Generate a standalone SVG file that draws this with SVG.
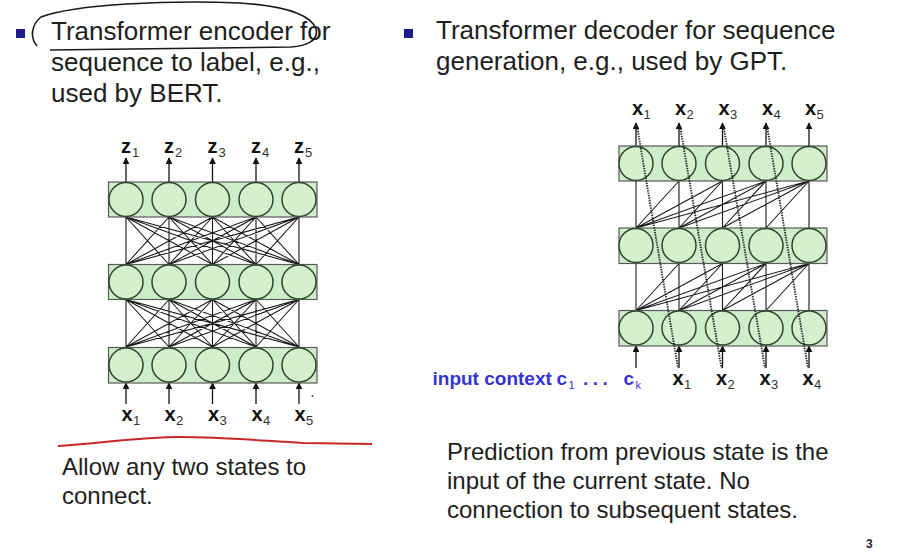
<svg xmlns="http://www.w3.org/2000/svg" xmlns:xlink="http://www.w3.org/1999/xlink" width="905" height="552" viewBox="0 0 905 552">
  <style>
    .body { font-family: "Liberation Sans", Arial, sans-serif; fill: #1e1e1e; }
    .big { font-size: 26px; }
    .mid { font-size: 24px; }
    .var { font-family: "Liberation Sans", Arial, sans-serif; font-size: 20px; font-weight: bold; fill: #111; }
    .sub { font-family: "Liberation Sans", Arial, sans-serif; font-size: 13px; fill: #333; }
    .ctx { font-family: "Liberation Sans", Arial, sans-serif; font-size: 19px; font-weight: bold; fill: #3434d4; }
    .ctxsub { font-family: "Liberation Sans", Arial, sans-serif; font-size: 11px; fill: #3434d4; }
    .layer { fill: #cfeccb; stroke: #5a5a5a; stroke-width: 1.2; }
    .unit { fill: #d4f0cd; stroke: #2d472d; stroke-width: 1.5; }
    .wire { fill: none; stroke: #1a1a1a; stroke-width: 1.1; }
    .arrow { fill: none; stroke: #111; stroke-width: 1.3; marker-end: url(#ah); }
    .dots { fill: none; stroke: #2a2a2a; stroke-width: 1.9; stroke-dasharray: 1.4 1.1; }
    .bullet { fill: #1c1c8e; }
  </style>
  <defs>
    <marker id="ah" viewBox="0 0 10 10" refX="9" refY="5" markerUnits="userSpaceOnUse" markerWidth="7" markerHeight="7" orient="auto">
      <path d="M0,0 L10,5 L0,10 Z" fill="#111"/>
    </marker>
    <!-- every unit of one layer wired to every unit of the next -->
    <path id="fullMesh" class="wire" d="
      M126 0L126 47.5M126 0L169 47.5M126 0L212.5 47.5M126 0L256 47.5M126 0L299 47.5
      M169 0L126 47.5M169 0L169 47.5M169 0L212.5 47.5M169 0L256 47.5M169 0L299 47.5
      M212.5 0L126 47.5M212.5 0L169 47.5M212.5 0L212.5 47.5M212.5 0L256 47.5M212.5 0L299 47.5
      M256 0L126 47.5M256 0L169 47.5M256 0L212.5 47.5M256 0L256 47.5M256 0L299 47.5
      M299 0L126 47.5M299 0L169 47.5M299 0L212.5 47.5M299 0L256 47.5M299 0L299 47.5"/>
    <!-- unit j only sees units 1..j of the layer below -->
    <path id="causalMesh" class="wire" d="
      M636 0L636 47
      M679 0L636 47M679 0L679 47
      M722.5 0L636 47M722.5 0L679 47M722.5 0L722.5 47
      M766 0L636 47M766 0L679 47M766 0L722.5 47M766 0L766 47
      M809 0L636 47M809 0L679 47M809 0L722.5 47M809 0L766 47M809 0L809 47"/>
  </defs>

  <rect width="905" height="552" fill="#ffffff"/>

  <!-- headings -->
  <g id="heading-left">
    <rect class="bullet" x="16" y="29" width="9" height="9"/>
    <text class="body big" x="51" y="40">Transformer encoder for</text>
    <text class="body big" x="51" y="71">sequence to label, e.g.,</text>
    <text class="body big" x="51" y="102">used by BERT.</text>
  </g>
  <g id="heading-right">
    <rect class="bullet" x="404" y="29" width="9" height="9"/>
    <text class="body big" x="436" y="39">Transformer decoder for sequence</text>
    <text class="body big" x="436" y="70">generation, e.g., used by GPT.</text>
  </g>

  <!-- pen marks -->
  <path d="M37,46 C30,38 31,25 41,17 C75,4 170,0 240,3 C285,6 311,15 316,29 C319,41 306,46 291,47 C220,48 120,49 50,50" fill="none" stroke="#1a1a1a" stroke-width="1.6"/>
  <path d="M58,446 C95,444 140,437 180,437 C225,437 265,441 303,443 L372,444" fill="none" stroke="#c62828" stroke-width="2"/>
  <circle cx="312.5" cy="396" r="1" fill="#444"/>

  <!-- connectors -->
  <g id="connectors">
    <use xlink:href="#fullMesh" href="#fullMesh" transform="translate(0,217)"/>
    <use xlink:href="#fullMesh" href="#fullMesh" transform="translate(0,299.5)"/>
    <use xlink:href="#causalMesh" href="#causalMesh" transform="translate(0,181)"/>
    <use xlink:href="#causalMesh" href="#causalMesh" transform="translate(0,263.5)"/>
    <!-- encoder outputs -->
    <line class="arrow" x1="126" y1="182" x2="126" y2="158"/>
    <line class="arrow" x1="169" y1="182" x2="169" y2="158"/>
    <line class="arrow" x1="212.5" y1="182" x2="212.5" y2="158"/>
    <line class="arrow" x1="256" y1="182" x2="256" y2="158"/>
    <line class="arrow" x1="299" y1="182" x2="299" y2="158"/>
    <!-- encoder inputs -->
    <line class="arrow" x1="126" y1="404" x2="126" y2="383"/>
    <line class="arrow" x1="169" y1="404" x2="169" y2="383"/>
    <line class="arrow" x1="212.5" y1="404" x2="212.5" y2="383"/>
    <line class="arrow" x1="256" y1="404" x2="256" y2="383"/>
    <line class="arrow" x1="299" y1="404" x2="299" y2="383"/>
    <!-- decoder outputs -->
    <line class="arrow" x1="636" y1="146" x2="636" y2="123"/>
    <line class="arrow" x1="679" y1="146" x2="679" y2="123"/>
    <line class="arrow" x1="722.5" y1="146" x2="722.5" y2="123"/>
    <line class="arrow" x1="766" y1="146" x2="766" y2="123"/>
    <line class="arrow" x1="809" y1="146" x2="809" y2="123"/>
    <!-- decoder inputs -->
    <line class="arrow" x1="636" y1="368" x2="636" y2="346"/>
    <line class="arrow" x1="679" y1="368" x2="679" y2="346"/>
    <line class="arrow" x1="722.5" y1="368" x2="722.5" y2="346"/>
    <line class="arrow" x1="766" y1="368" x2="766" y2="346"/>
    <line class="arrow" x1="809" y1="368" x2="809" y2="346"/>
  </g>

  <!-- encoder layers -->
  <g id="enc-layer-3">
    <rect class="layer" x="108.5" y="182" width="208.5" height="35"/>
    <g id="enc-3-1"><circle class="unit" cx="126" cy="199.5" r="17"/></g>
    <g id="enc-3-2"><circle class="unit" cx="169" cy="199.5" r="17"/></g>
    <g id="enc-3-3"><circle class="unit" cx="212.5" cy="199.5" r="17"/></g>
    <g id="enc-3-4"><circle class="unit" cx="256" cy="199.5" r="17"/></g>
    <g id="enc-3-5"><circle class="unit" cx="299" cy="199.5" r="17"/></g>
  </g>
  <g id="enc-layer-2">
    <rect class="layer" x="108.5" y="264.5" width="208.5" height="35"/>
    <g id="enc-2-1"><circle class="unit" cx="126" cy="282" r="17"/></g>
    <g id="enc-2-2"><circle class="unit" cx="169" cy="282" r="17"/></g>
    <g id="enc-2-3"><circle class="unit" cx="212.5" cy="282" r="17"/></g>
    <g id="enc-2-4"><circle class="unit" cx="256" cy="282" r="17"/></g>
    <g id="enc-2-5"><circle class="unit" cx="299" cy="282" r="17"/></g>
  </g>
  <g id="enc-layer-1">
    <rect class="layer" x="108.5" y="347.5" width="208.5" height="35.5"/>
    <g id="enc-1-1"><circle class="unit" cx="126" cy="365" r="17"/></g>
    <g id="enc-1-2"><circle class="unit" cx="169" cy="365" r="17"/></g>
    <g id="enc-1-3"><circle class="unit" cx="212.5" cy="365" r="17"/></g>
    <g id="enc-1-4"><circle class="unit" cx="256" cy="365" r="17"/></g>
    <g id="enc-1-5"><circle class="unit" cx="299" cy="365" r="17"/></g>
  </g>

  <!-- decoder layers -->
  <g id="dec-layer-3">
    <rect class="layer" x="619" y="146" width="208" height="35"/>
    <g id="dec-3-1"><circle class="unit" cx="636" cy="163.5" r="17"/></g>
    <g id="dec-3-2"><circle class="unit" cx="679" cy="163.5" r="17"/></g>
    <g id="dec-3-3"><circle class="unit" cx="722.5" cy="163.5" r="17"/></g>
    <g id="dec-3-4"><circle class="unit" cx="766" cy="163.5" r="17"/></g>
    <g id="dec-3-5"><circle class="unit" cx="809" cy="163.5" r="17"/></g>
  </g>
  <g id="dec-layer-2">
    <rect class="layer" x="619" y="228" width="208" height="35.5"/>
    <g id="dec-2-1"><circle class="unit" cx="636" cy="245.5" r="17"/></g>
    <g id="dec-2-2"><circle class="unit" cx="679" cy="245.5" r="17"/></g>
    <g id="dec-2-3"><circle class="unit" cx="722.5" cy="245.5" r="17"/></g>
    <g id="dec-2-4"><circle class="unit" cx="766" cy="245.5" r="17"/></g>
    <g id="dec-2-5"><circle class="unit" cx="809" cy="245.5" r="17"/></g>
  </g>
  <g id="dec-layer-1">
    <rect class="layer" x="619" y="310.5" width="208" height="35.5"/>
    <g id="dec-1-1"><circle class="unit" cx="636" cy="328" r="17"/></g>
    <g id="dec-1-2"><circle class="unit" cx="679" cy="328" r="17"/></g>
    <g id="dec-1-3"><circle class="unit" cx="722.5" cy="328" r="17"/></g>
    <g id="dec-1-4"><circle class="unit" cx="766" cy="328" r="17"/></g>
    <g id="dec-1-5"><circle class="unit" cx="809" cy="328" r="17"/></g>
  </g>

  <!-- each prediction fed back as the next input -->
  <g id="feedback">
    <line class="dots" x1="637" y1="126" x2="678" y2="368"/>
    <line class="dots" x1="680" y1="126" x2="721.5" y2="368"/>
    <line class="dots" x1="723.5" y1="126" x2="765" y2="368"/>
    <line class="dots" x1="767" y1="126" x2="808" y2="368"/>
  </g>

  <!-- encoder labels -->
  <g id="enc-out-labels">
    <text class="var" x="121" y="153">z</text><text class="sub" x="132" y="157">1</text>
    <text class="var" x="164" y="153">z</text><text class="sub" x="175" y="157">2</text>
    <text class="var" x="207.5" y="153">z</text><text class="sub" x="218.5" y="157">3</text>
    <text class="var" x="251" y="153">z</text><text class="sub" x="262" y="157">4</text>
    <text class="var" x="294" y="153">z</text><text class="sub" x="305" y="157">5</text>
  </g>
  <g id="enc-in-labels">
    <text class="var" x="121.5" y="421">x</text><text class="sub" x="133" y="425">1</text>
    <text class="var" x="164.5" y="421">x</text><text class="sub" x="176" y="425">2</text>
    <text class="var" x="208" y="421">x</text><text class="sub" x="219.5" y="425">3</text>
    <text class="var" x="251.5" y="421">x</text><text class="sub" x="263" y="425">4</text>
    <text class="var" x="294.5" y="421">x</text><text class="sub" x="306" y="425">5</text>
  </g>

  <!-- decoder labels -->
  <g id="dec-out-labels">
    <text class="var" x="632" y="115">x</text><text class="sub" x="643.5" y="119">1</text>
    <text class="var" x="675" y="115">x</text><text class="sub" x="686.5" y="119">2</text>
    <text class="var" x="718.5" y="115">x</text><text class="sub" x="730" y="119">3</text>
    <text class="var" x="762" y="115">x</text><text class="sub" x="773.5" y="119">4</text>
    <text class="var" x="805" y="115">x</text><text class="sub" x="816.5" y="119">5</text>
  </g>
  <g id="dec-in-labels">
    <text class="var" x="672.5" y="385">x</text><text class="sub" x="684" y="389">1</text>
    <text class="var" x="716" y="385">x</text><text class="sub" x="727.5" y="389">2</text>
    <text class="var" x="759.5" y="385">x</text><text class="sub" x="771" y="389">3</text>
    <text class="var" x="802.5" y="385">x</text><text class="sub" x="814" y="389">4</text>
  </g>
  <g id="context-label">
    <text class="ctx" x="432.5" y="385">input context</text>
    <text class="ctx" x="556.5" y="385">c</text><text class="ctxsub" x="568.5" y="389">1</text>
    <text class="ctx" x="583" y="385" letter-spacing="4.5">...</text>
    <text class="ctx" x="623.5" y="385">c</text><text class="ctxsub" x="635.5" y="389">k</text>
  </g>

  <!-- captions -->
  <g id="caption-left">
    <text class="body mid" x="62" y="475">Allow any two states to</text>
    <text class="body mid" x="62" y="504">connect.</text>
  </g>
  <g id="caption-right">
    <text class="body mid" x="447" y="460">Prediction from previous state is the</text>
    <text class="body mid" x="447" y="489">input of the current state. No</text>
    <text class="body mid" x="447" y="518">connection to subsequent states.</text>
  </g>

  <text x="866" y="548" font-family="Liberation Sans, Arial, sans-serif" font-size="12" font-weight="bold" fill="#222">3</text>
</svg>
